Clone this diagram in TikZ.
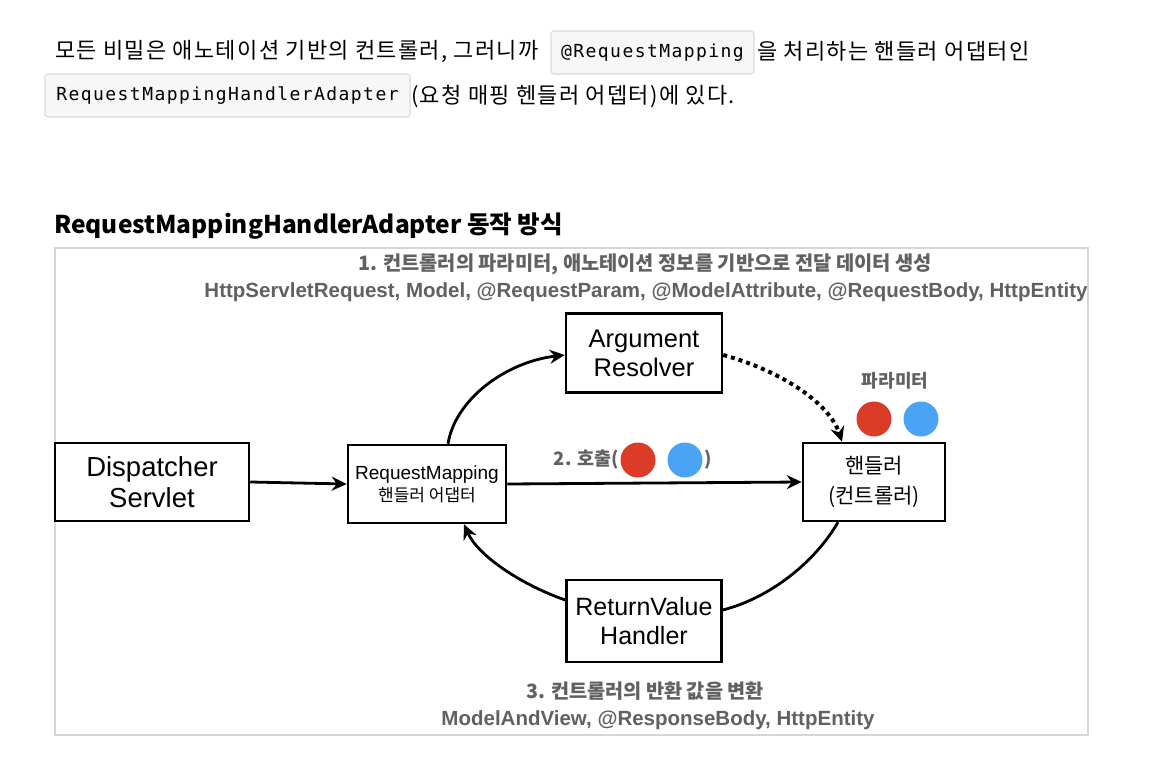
\documentclass[tikz,border=0pt]{standalone}
\usepackage{fontspec}
\setmainfont{Noto Sans CJK KR}
\newfontfamily\bodyfont[LetterSpace=6]{Noto Sans CJK KR}
\newfontfamily\arial{Liberation Sans}
\newfontfamily\codefont[LetterSpace=8]{DejaVu Sans Mono}
\usepackage{tikz}
\usetikzlibrary{arrows.meta}
\usetikzlibrary{positioning,calc}
\colorlet{labelgray}{black!62}
\colorlet{framegray}{black!16}
\definecolor{dotred}{RGB}{218,60,40}
\definecolor{dotblue}{RGB}{74,163,245}

\begin{document}
\begin{tikzpicture}[
x=1pt,y=-1pt,
Boxes/.style={draw=black,line width=2.5pt,fill=white,align=center,inner sep=0pt},
CodeBox/.style={draw=black!14,fill=black!3,line width=1.2pt,rounded corners=3pt,inner sep=0pt,minimum height=43pt,font=\codefont\fontsize{18}{20}\selectfont},
BodyText/.style={anchor=west,inner sep=0pt,font=\bodyfont\fontsize{22}{26}\selectfont},
Flow/.style={line width=2.8pt,-{Stealth[length=15pt,width=14pt,inset=5pt]}},
GrayText/.style={labelgray,inner sep=0pt},
Dots/.style={circle,minimum size=35pt,inner sep=0pt}
]
\fill[white] (0,0) rectangle (1173,768);
\useasboundingbox (0,0) rectangle (1173,768);

% paragraph above the picture
\node[BodyText] (line1) at (55,51) {모든 비밀은 애노테이션 기반의 컨트롤러, 그러니까};
\node[CodeBox,minimum width=203pt] (code1) at (652.5,52.5) {@RequestMapping};
\node[BodyText] (line1b) at (757,51) {을 처리하는 핸들러 어댑터인};
\node[CodeBox,minimum width=365pt] (code2) at (227.5,95.5) {RequestMappingHandlerAdapter};
\node[BodyText] (line2) at (411,97) {(요청 매핑 헨들러 어뎁터)에 있다.};

\node[anchor=west,inner sep=0pt,font=\bfseries\fontsize{24.5}{28}\selectfont] (title) at (54,226) {RequestMappingHandlerAdapter 동작 방식};

% frame of the picture
\draw[framegray,line width=1.5pt] (55,248) rectangle (1088,735);

\node[GrayText,font=\bfseries\fontsize{19.8}{22}\selectfont] (step1) at (645,264) {1. 컨트롤러의 파라미터, 애노테이션 정보를 기반으로 전달 데이터 생성};
\node[GrayText,font=\arial\bfseries\fontsize{20.5}{22}\selectfont] (args) at (646,292) {HttpServletRequest, Model, @RequestParam, @ModelAttribute, @RequestBody, HttpEntity};

% the five boxes
\node[Boxes,minimum width=194pt,minimum height=78pt,font=\arial\fontsize{27.5}{31}\selectfont] (disp) at (152,482) {Dispatcher\\Servlet};
\node[Boxes,minimum width=158pt,minimum height=78pt,font=\arial\fontsize{19}{22}\selectfont] (adapter) at (427,484) {RequestMapping\\{\rmfamily\fontsize{17}{22}\selectfont 핸들러 어댑터}};
\node[Boxes,minimum width=156pt,minimum height=79pt,font=\arial\fontsize{25.5}{29}\selectfont] (argres) at (644,353) {Argument\\Resolver};
\node[Boxes,minimum width=142pt,minimum height=78pt,font=\fontsize{21}{30}\selectfont] (handler) at (874,482) {핸들러\\(컨트롤러)};
\node[Boxes,minimum width=155pt,minimum height=82pt,font=\arial\fontsize{25}{29}\selectfont] (retval) at (644,621) {ReturnValue\\Handler};

% parameters
\node[GrayText,font=\bfseries\fontsize{18}{20}\selectfont] (params) at (895,381) {파라미터};
\node[Dots,fill=dotred] (pred) at (874,419) {};
\node[Dots,fill=dotblue] (pblue) at (921,419) {};

% call label
\node[GrayText,anchor=east,font=\bfseries\fontsize{18.5}{20}\selectfont] (call) at (619,460) {2. 호출(};
\node[Dots,fill=dotred] (cred) at (638,460) {};
\node[Dots,fill=dotblue] (cblue) at (685,460) {};
\node[GrayText,anchor=west,font=\bfseries\fontsize{18.5}{20}\selectfont] (callend) at (704,460) {)};

% arrows
\draw[Flow] (disp.east) -- (adapter.west);
\draw[Flow] (adapter.east) -- (handler.west);
\draw[Flow] ([xshift=21pt]adapter.north) .. controls (455,400) and (505,362) .. ([yshift=-2pt]argres.west);
\draw[Flow,dash pattern=on 4pt off 4pt,line width=4pt] ([yshift=-2pt]argres.east) .. controls (785,372) and (830,405) .. ([xshift=-32pt]handler.north);
\draw[line width=2.8pt] ([xshift=-36pt]handler.south) .. controls (815,562) and (770,598) .. ([yshift=11pt]retval.east);
\draw[Flow] ([yshift=21pt]retval.west) .. controls (522,585) and (478,556) .. ([xshift=37pt]adapter.south);

\node[GrayText,font=\bfseries\fontsize{19.7}{22}\selectfont] (step3) at (645,691) {3. 컨트롤러의 반환 값을 변환};
\node[GrayText,font=\arial\bfseries\fontsize{20.5}{22}\selectfont] (returns) at (658,720) {ModelAndView, @ResponseBody, HttpEntity};

\end{tikzpicture}
\end{document}
